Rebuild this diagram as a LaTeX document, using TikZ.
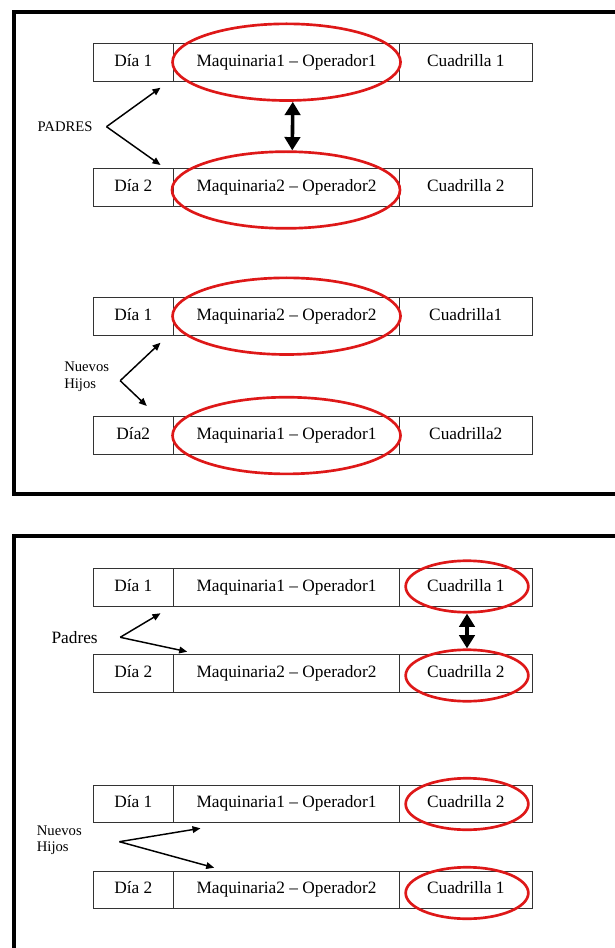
\documentclass[tikz,border=0pt]{standalone}
\usepackage{fontspec}
\setmainfont{Liberation Serif}
\usetikzlibrary{positioning,shapes.geometric,arrows.meta}
\definecolor{ovalred}{RGB}{222,24,24}
\tikzset{every picture/.style={line width=0.75pt}}
\tikzset{
  cell/.style={draw=black!80, line width=0.75pt, outer sep=0pt, inner sep=0pt, minimum height=28.3pt, text height=0.7em, text depth=0.1em, font=\fontsize{13}{15}\selectfont},
  dia/.style={cell, minimum width=60.4pt},
  maq/.style={cell, minimum width=169.5pt},
  cuad/.style={cell, minimum width=99.4pt},
  bigoval/.style={ellipse, draw=ovalred, line width=2pt, inner sep=0pt, minimum width=171pt, minimum height=57.5pt},
  smalloval/.style={ellipse, draw=ovalred, line width=2pt, inner sep=0pt, minimum width=92pt, minimum height=38.6pt},
  frame/.style={line width=3pt},
  thinarrow/.style={-{Triangle[length=6pt,width=5pt]}, line width=1.1pt},
  swaparrow/.style={{Triangle[length=10pt,width=11.5pt]}-{Triangle[length=10pt,width=11.5pt]}, line width=2.7pt},
  lbl/.style={inner sep=0pt, align=left}
}

\begin{document}
\begin{tikzpicture}[x=0.75pt,y=0.75pt,yscale=-1,xscale=1]
\useasboundingbox (0,0) rectangle (614,948);

%Frames
\draw[frame] (630,12) -- (13.5,12) -- (13.5,494) -- (630,494);
\draw[frame] (630,536) -- (13.5,536) -- (13.5,960);

%Row 1
\node[dia, anchor=north west] (d1) at (93,43.3) {Día 1};
\node[maq, right=0pt of d1] (m1) {Maquinaria1 -- Operador1};
\node[cuad, right=0pt of m1] (c1) {Cuadrilla 1};
%Row 2
\node[dia, anchor=north west] (d2) at (93,169) {Día 2};
\node[maq, right=0pt of d2] (m2) {Maquinaria2 -- Operador2};
\node[cuad, right=0pt of m2] (c2) {Cuadrilla 2};
%Row 3
\node[dia, anchor=north west] (d3) at (93,297.3) {Día 1};
\node[maq, right=0pt of d3] (m3) {Maquinaria2 -- Operador2};
\node[cuad, right=0pt of m3] (c3) {Cuadrilla1};
%Row 4
\node[dia, anchor=north west] (d4) at (93,416.7) {Día2};
\node[maq, right=0pt of d4] (m4) {Maquinaria1 -- Operador1};
\node[cuad, right=0pt of m4] (c4) {Cuadrilla2};
%Row 5
\node[dia, anchor=north west] (d5) at (93,568.3) {Día 1};
\node[maq, right=0pt of d5] (m5) {Maquinaria1 -- Operador1};
\node[cuad, right=0pt of m5] (c5) {Cuadrilla 1};
%Row 6
\node[dia, anchor=north west] (d6) at (93,654.3) {Día 2};
\node[maq, right=0pt of d6] (m6) {Maquinaria2 -- Operador2};
\node[cuad, right=0pt of m6] (c6) {Cuadrilla 2};
%Row 7
\node[dia, anchor=north west] (d7) at (93,785) {Día 1};
\node[maq, right=0pt of d7] (m7) {Maquinaria1 -- Operador1};
\node[cuad, right=0pt of m7] (c7) {Cuadrilla 2};
%Row 8
\node[dia, anchor=north west] (d8) at (93,871) {Día 2};
\node[maq, right=0pt of d8] (m8) {Maquinaria2 -- Operador2};
\node[cuad, right=0pt of m8] (c8) {Cuadrilla 1};

%Ovals
\node[bigoval] (e1) at (m1) {};
\node[bigoval] (e2) at (286,190) {};
\node[bigoval] (e3) at (m3) {};
\node[bigoval] (e4) at (m4) {};
\node[smalloval] (e5) at (467,586.5) {};
\node[smalloval] (e6) at (467,675.5) {};
\node[smalloval] (e7) at (467,804) {};
\node[smalloval] (e8) at (467,893) {};

%Swap arrows
\draw[swaparrow] (e1.-81) -- (e2.81);
\draw[swaparrow] (e5.south) -- (e6.north);

% Text Node
\node[lbl, anchor=east, font=\fontsize{11}{12.5}\selectfont] (padres) at (93,126.7) {PADRES};
\node[lbl, anchor=west, font=\fontsize{11}{12.5}\selectfont] (hijos) at (63.8,376.7) {Nuevos\\Hijos};
\node[lbl, anchor=west, font=\fontsize{13}{15}\selectfont] (padres2) at (51,637.3) {Padres};
\node[lbl, anchor=west, font=\fontsize{11}{12}\selectfont] (hijos2) at (36.4,840.7) {Nuevos\\Hijos};

%Pointers
\coordinate (v1) at (106.5,126.7);
\coordinate (t1a) at (160.5,87.7);
\coordinate (t1b) at (160.5,165);
\draw[thinarrow] (v1) -- (t1a);
\draw[thinarrow] (v1) -- (t1b);

\coordinate (v2) at (120.2,380.7);
\coordinate (t2a) at (160.5,342.7);
\coordinate (t2b) at (146.8,406);
\draw[thinarrow] (v2) -- (t2a);
\draw[thinarrow] (v2) -- (t2b);

\coordinate (v3) at (120.2,637.3);
\coordinate (t3a) at (160.5,613.3);
\coordinate (t3b) at (187.2,651.7);
\draw[thinarrow] (v3) -- (t3a);
\draw[thinarrow] (v3) -- (t3b);

\coordinate (v4) at (119.4,841.7);
\coordinate (t4a) at (200.5,828.3);
\coordinate (t4b) at (214.2,867.7);
\draw[thinarrow] (v4) -- (t4a);
\draw[thinarrow] (v4) -- (t4b);
\end{tikzpicture}
\end{document}
